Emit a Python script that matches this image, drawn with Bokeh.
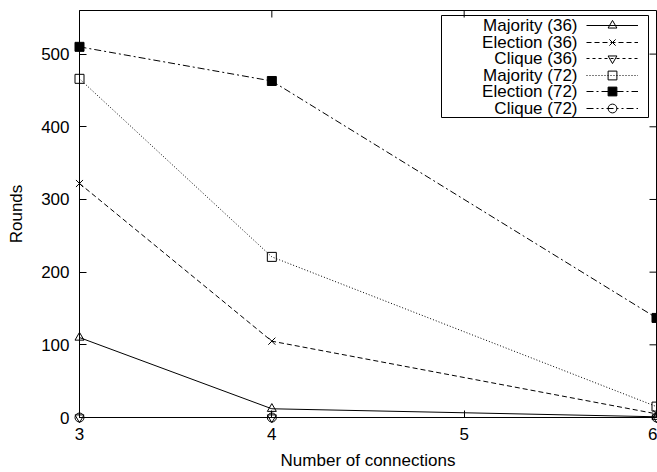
import math
from bokeh.plotting import figure
from bokeh.models import Range1d, FixedTicker, Legend, LegendItem, Label, BoxAnnotation
from bokeh.embed import file_html
from bokeh.resources import INLINE

# ---- data ----
connections = [3, 4, 6]
majority_36 = [110, 12, 1]
election_36 = [322, 105, 5]
clique_36 = [0, 0, 0]
majority_72 = [466, 221, 15]
election_72 = [510, 463, 137]
clique_72 = [0, 0, 0]

series_labels = ["Majority (36)", "Election (36)", "Clique (36)",
                 "Majority (72)", "Election (72)", "Clique (72)"]
x_ticks = [3, 4, 5, 6]
y_ticks = [0, 100, 200, 300, 400, 500]
x_lo, x_hi = 3, 6
y_lo, y_hi = 0, 560

FONT = "Liberation Sans"
FS = "17px"
W, H = 657, 472
BL, BR, BT, BB = 79, 1, 10, 55
FRAME_BOTTOM = H - BB

p = figure(width=W, height=H, output_backend="svg", toolbar_location=None,
           x_range=Range1d(x_lo, x_hi), y_range=Range1d(y_lo, y_hi),
           min_border_left=BL, min_border_right=BR, min_border_top=BT, min_border_bottom=BB,
           background_fill_color="white", border_fill_color="white",
           outline_line_color="black", outline_line_width=1)
p.grid.visible = False

p.xaxis.ticker = FixedTicker(ticks=x_ticks)
p.yaxis.ticker = FixedTicker(ticks=y_ticks)
p.xaxis.axis_label = "Number of connections"
p.yaxis.axis_label = "Rounds"
for ax in (p.xaxis, p.yaxis):
    ax.major_label_text_font = FONT
    ax.major_label_text_font_size = FS
    ax.major_label_text_color = "black"
    ax.axis_label_text_font = FONT
    ax.axis_label_text_font_size = FS
    ax.axis_label_text_font_style = "normal"
    ax.axis_label_text_color = "black"
    ax.major_tick_in = 7
    ax.major_tick_out = 0
    ax.minor_tick_line_color = None
    ax.axis_line_color = "black"
    ax.major_tick_line_color = "black"
p.xaxis.major_label_standoff = 10
p.xaxis.axis_label_standoff = 8
p.yaxis.major_label_standoff = 10
p.yaxis.axis_label_standoff = 12

# mirrored ticks on top and right (gnuplot style)
p.ray(x=x_ticks, y=[y_hi] * len(x_ticks), length=7, length_units="screen",
      angle=-math.pi / 2, line_color="black", line_width=1)
p.ray(x=[x_hi] * len(y_ticks), y=y_ticks, length=7, length_units="screen",
      angle=math.pi, line_color="black", line_width=1)

series = [
    (majority_36, "solid", "triangle", False, 9),
    (election_36, "5 3", "x", False, 10),
    (clique_36, "3 3", "inverted_triangle", False, 9),
    (majority_72, "1 2", "square", False, 9),
    (election_72, "7 3 2 3", "square", True, 9),
    (clique_72, "7 3 2 3 2 3", "circle", False, 9),
]

# ---- gnuplot-style key: box, right-aligned texts, samples on the right ----
# positions given in canvas px from top-left, converted to frame-relative screen units
def sx(cx):
    return cx - BL

def sy(cy):
    return FRAME_BOTTOM - cy

key_left, key_right, key_top, key_bottom = 441, 648, 15, 117
row0, row_step = 25, 16.5
text_right = 577
sample_left, sample_w, sample_h = 586, 52, 22

p.add_layout(BoxAnnotation(left=sx(key_left), right=sx(key_right),
                           top=sy(key_top), bottom=sy(key_bottom),
                           left_units="screen", right_units="screen",
                           top_units="screen", bottom_units="screen",
                           fill_color="white", fill_alpha=1.0,
                           line_color="black", line_width=1, line_alpha=1.0,
                           level="underlay"))

for i, ((vals, dash, marker, filled, size), label) in enumerate(zip(series, series_labels)):
    lr = p.line(connections, vals, line_color="black", line_width=1, line_dash=dash)
    sr = p.scatter(connections, vals, marker=marker, size=size, line_color="black",
                   line_width=1, fill_color="black" if filled else None,
                   fill_alpha=1.0 if filled else 0.0, level="overlay")
    row_y = row0 + i * row_step
    p.add_layout(Label(x=sx(text_right), y=sy(row_y), x_units="screen", y_units="screen",
                       text=label, text_align="right", text_baseline="middle",
                       text_font=FONT, text_font_size=FS, text_color="black"))
    leg = Legend(items=[LegendItem(label=" ", renderers=[lr, sr])],
                 location=(sx(sample_left), sy(row_y + sample_h / 2)),
                 margin=0, padding=0, spacing=0,
                 border_line_color=None, background_fill_alpha=0.0,
                 label_text_font=FONT, label_text_font_size=FS,
                 glyph_width=sample_w, glyph_height=sample_h, label_height=sample_h,
                 label_width=0, label_standoff=0)
    p.add_layout(leg)

open("out.html", "w").write(file_html(p, INLINE))
